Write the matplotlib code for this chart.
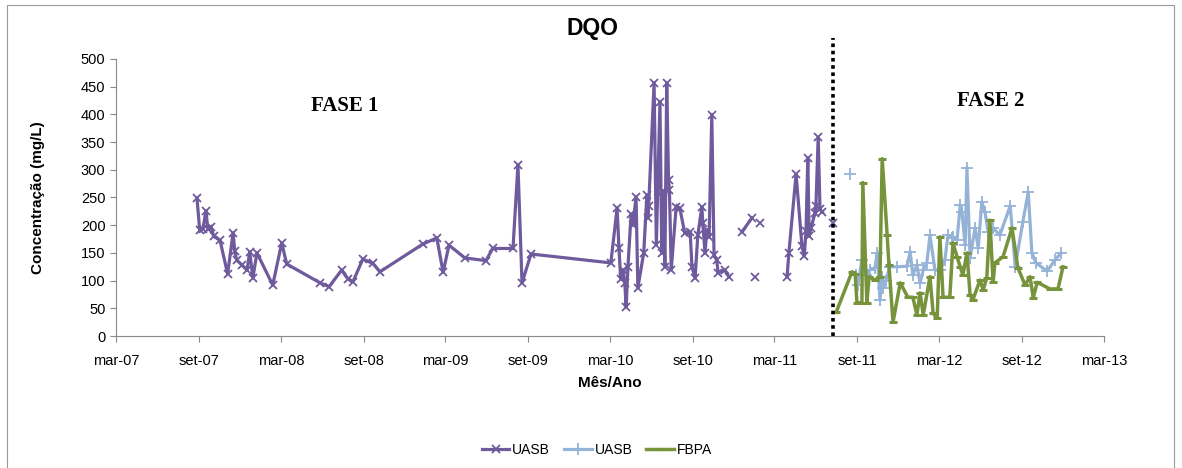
import matplotlib
matplotlib.use("Agg")
import matplotlib.pyplot as plt
from matplotlib.patches import Rectangle
import numpy as np
import pandas as pd

nan = np.nan

# UASB - fase 1
uasb1_dates = [
    "2007-08-28", "2007-09-03", "2007-09-10", "2007-09-17", "2007-09-21", "2007-09-28",
    "2007-10-04", "2007-10-18", "2007-11-04", "2007-11-16", "2007-11-20", "2007-11-24",
    "2007-12-06", "2007-12-17", "2007-12-23", "2007-12-30", "2008-01-08", "2008-02-12",
    "2008-03-03", "2008-03-14", "2008-05-27", "2008-06-16", "2008-07-14", "2008-07-28",
    "2008-08-08", "2008-08-30", "2008-09-21", "2008-10-07", "2009-01-10", "2009-02-10",
    "2009-02-24", "2009-03-09", "2009-04-13", "2009-05-30", "2009-06-14", "2009-07-29",
    "2009-08-09", "2009-08-18", "2009-09-07", "2010-03-03", "2010-03-17", "2010-03-21",
    "2010-03-25", "2010-03-30", "2010-04-03", "2010-04-06", "2010-04-10", "2010-04-17",
    "2010-04-21", "2010-04-28", "2010-05-02", "2010-05-15", "2010-05-22", "2010-05-24",
    "2010-05-26", "2010-06-07", "2010-06-12", "2010-06-20", "2010-06-24", "2010-06-26",
    "2010-07-01", "2010-07-05", "2010-07-09", "2010-07-11", "2010-07-15", "2010-07-26",
    "2010-08-03", "2010-08-14", "2010-08-26", "2010-08-30", "2010-09-06", "2010-09-12",
    "2010-09-21", "2010-09-23", "2010-09-28", "2010-10-02", "2010-10-07", "2010-10-13",
    "2010-10-18", "2010-10-24", "2010-10-27", "2010-11-11", "2010-11-20", "2010-12-05",
    "2010-12-19", "2011-01-10", "2011-01-14", "2011-01-17", "2011-01-22", "2011-01-28",
    "2011-03-01", "2011-03-29", "2011-04-02", "2011-04-18", "2011-05-01", "2011-05-06",
    "2011-05-10", "2011-05-14", "2011-05-17", "2011-05-21", "2011-05-30", "2011-06-01",
    "2011-06-06", "2011-06-10", "2011-06-14", "2011-06-25", "2011-07-09",
]
uasb1_vals = [
    249, 191, 193, 226, 193, 197,
    180, 173, 112, 186, 153, 137,
    128, 119, 152, 105, 150, 92,
    168, 130, 96, 89, 119, 103,
    98, 139, 131, 116, 166, 177,
    115, 164, 141, 136, 158, 158,
    309, 96, 148, 132, 231, 159,
    103, 119, 96, 52, 125, 220,
    200, 251, 87, 150, 254, 213,
    235, 457, 165, 423, 150, 262,
    125, 457, 282, 264, 120, 233,
    231, 186, 188, 125, 105, 182,
    233, 204, 150, 191, 179, 399,
    146, 137, 114, 119, 107, nan,
    188, 213, nan, 107, nan, 204,
    nan, 107, 150, 292, 162, 145,
    190, 321, 180, 195, 222, 235,
    359, 230, 224, nan, 204,
]

# UASB - fase 2
uasb2_dates = [
    "2011-08-16", "2011-08-22", "2011-08-29", "2011-09-02", "2011-09-11", "2011-09-20",
    "2011-09-29", "2011-10-10", "2011-10-15", "2011-10-21", "2011-10-26", "2011-10-28",
    "2011-11-03", "2011-11-12", "2011-11-28", "2011-12-20", "2011-12-27", "2012-01-02",
    "2012-01-11", "2012-01-18", "2012-01-25", "2012-02-02", "2012-02-09", "2012-02-20",
    "2012-03-02", "2012-03-13", "2012-03-20", "2012-03-29", "2012-03-31", "2012-04-09",
    "2012-04-16", "2012-04-20", "2012-04-27", "2012-05-01", "2012-05-08", "2012-05-19",
    "2012-05-26", "2012-06-03", "2012-06-10", "2012-06-17", "2012-06-28", "2012-07-13",
    "2012-08-05", "2012-08-16", "2012-09-02", "2012-09-14", "2012-09-22", "2012-10-01",
    "2012-10-26", "2012-11-12", "2012-11-26",
]
uasb2_vals = [
    292, nan, 110, 92, 137, 110,
    120, 123, 150, 65, 107, 87,
    100, 125, 125, 126, 152, 110,
    128, 96, 119, 132, 182, 119,
    119, 137, 182, 177, 179, 173,
    236, 224, 164, 303, 141, 195,
    159, 242, 224, 188, 195, 182,
    235, 125, 206, 260, 150, 132,
    117, 137, 150,
]

# FBPA
fbpa_dates = [
    "2011-07-16", "2011-08-20", "2011-08-27", "2011-08-31", "2011-09-11", "2011-09-13",
    "2011-09-22", "2011-09-27", "2011-10-10", "2011-10-21", "2011-10-26", "2011-11-06",
    "2011-11-10", "2011-11-19", "2011-12-05", "2011-12-22", "2012-01-02", "2012-01-11",
    "2012-01-18", "2012-01-25", "2012-02-09", "2012-02-16", "2012-02-25", "2012-03-02",
    "2012-03-09", "2012-03-24", "2012-03-31", "2012-04-09", "2012-04-16", "2012-04-22",
    "2012-05-01", "2012-05-08", "2012-05-14", "2012-05-30", "2012-06-06", "2012-06-14",
    "2012-06-21", "2012-06-28", "2012-07-02", "2012-07-20", "2012-08-09", "2012-08-22",
    "2012-09-07", "2012-09-18", "2012-09-25", "2012-10-04", "2012-11-01", "2012-11-19",
    "2012-11-30",
]
fbpa_vals = [
    43, 116, 112, 60, 60, 277,
    60, 107, 101, 107, 320, 182,
    128, 25, 96, 70, 70, 38,
    78, 38, 107, 41, 32, 179,
    70, 70, 168, 143, 125, 110,
    150, 74, 65, 101, 83, 105,
    209, 97, 132, 143, 195, 123,
    92, 107, 69, 97, 85, 85,
    125,
]

tick_dates = pd.date_range("2007-03-01", "2013-03-01", freq="6MS")
tick_labels = ["mar-07", "set-07", "mar-08", "set-08", "mar-09", "set-09", "mar-10",
               "set-10", "mar-11", "set-11", "mar-12", "set-12", "mar-13"]
phase_split = "2011-07-09"

sans = ["Liberation Sans", "DejaVu Sans"]

fig = plt.figure(figsize=(11.82, 4.68), dpi=100)
ax = fig.add_axes([0.098, 0.282, 0.836, 0.592])

purple = "#6E5A9C"
blue = "#95B3D7"
green = "#77933C"

ax.plot(pd.to_datetime(uasb1_dates), uasb1_vals, color=purple, lw=2.3,
        marker="x", ms=6, mew=1.3, label="UASB")
ax.plot(pd.to_datetime(uasb2_dates), uasb2_vals, color=blue, lw=2.3,
        marker="+", ms=8, mew=1.3, label="UASB")
ax.plot(pd.to_datetime(fbpa_dates), fbpa_vals, color=green, lw=2.5,
        marker="_", ms=6, mew=2.2, label="FBPA")

# divisória entre fases
ax.plot([pd.Timestamp(phase_split)] * 2, [0, 538], color="black", lw=2.6,
        ls=(0, (1, 1)), clip_on=False)

ax.set_xlim(pd.Timestamp("2007-03-01"), pd.Timestamp("2013-03-01"))
ax.set_ylim(0, 500)
ax.set_yticks(range(0, 501, 50))
ax.set_xticks(tick_dates)
ax.set_xticklabels(tick_labels, family=sans, fontsize=10.5)
for t in ax.get_yticklabels():
    t.set_family(sans)
    t.set_fontsize(10.5)

for s in ["top", "right"]:
    ax.spines[s].set_visible(False)
for s in ["left", "bottom"]:
    ax.spines[s].set_color("#888888")
    ax.spines[s].set_linewidth(0.8)
ax.tick_params(colors="#888888", length=4, width=0.8, labelcolor="black")
ax.tick_params(axis="x", pad=9)

ax.set_ylabel("Concentração (mg/L)", fontsize=11, fontweight="bold", family=sans,
              labelpad=26)
ax.set_xlabel("Mês/Ano", fontsize=11, fontweight="bold", family=sans, labelpad=6)

fig.text(0.501, 0.94, "DQO", ha="center", va="center", fontsize=16.5,
         fontweight="bold", family=sans)

ax.text(0.232, 0.83, "FASE 1", transform=ax.transAxes, ha="center", va="center",
        fontsize=15, fontweight="bold", family="Liberation Serif")
ax.text(0.885, 0.85, "FASE 2", transform=ax.transAxes, ha="center", va="center",
        fontsize=15, fontweight="bold", family="Liberation Serif")

fig.legend(loc="center", bbox_to_anchor=(0.505, 0.038), ncol=3, frameon=False,
           prop={"family": sans, "size": 10}, handlelength=2.0,
           columnspacing=1.0, handletextpad=0.2)

fig.patches.append(Rectangle((0.006, -0.01), 0.987, 1.0, transform=fig.transFigure,
                             fill=False, edgecolor="#999999", lw=0.8))

fig.savefig("out.png", dpi=100)
